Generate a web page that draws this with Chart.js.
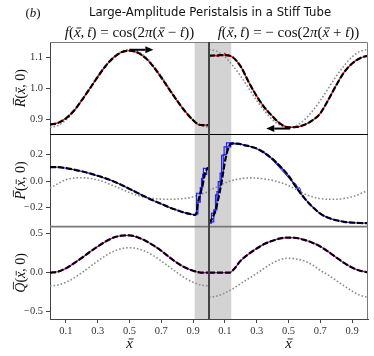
<!DOCTYPE html>
<html>
<head>
<meta charset="utf-8">
<script src="https://cdn.jsdelivr.net/npm/chart.js@4.4.1/dist/chart.umd.min.js"></script>
<style>
  html, body { margin: 0; padding: 0; background: #fff; }
  #wrap { width: 374px; height: 356px; }
</style>
</head>
<body>
<div id="wrap"><canvas id="chart" width="374" height="356"></canvas></div>
<script>
// ---- data ----
var xGrid = [0, 0.05, 0.1, 0.15, 0.2, 0.25, 0.3, 0.35, 0.4, 0.45, 0.5, 0.55, 0.6, 0.65, 0.7, 0.75, 0.8, 0.85, 0.9, 0.95, 1];

var xTickVals = [0.1, 0.3, 0.5, 0.7, 0.9];
var xTickLabels = ['0.1', '0.3', '0.5', '0.7', '0.9'];
var rTicks = [0.9, 1.0, 1.1];
var rTickLabels = ['0.9', '1.0', '1.1'];
var pTicks = [-0.2, 0, 0.2];
var pTickLabels = ['\u22120.2', '0.0', '0.2'];
var qTicks = [-0.5, 0, 0.5];
var qTickLabels = ['\u22120.5', '0.0', '0.5'];

// shaded bands (x, left and right panel)
var bandLeft = [0.91, 1.0];
var bandRight = [0, 0.14];

// R(x,0)
var rLeftX = [0, 0.05, 0.1, 0.15, 0.2, 0.25, 0.3, 0.35, 0.4, 0.45, 0.5, 0.55, 0.6, 0.65, 0.7, 0.75, 0.8, 0.85, 0.9, 0.93, 0.96, 1];
var rLeft = [0.884, 0.889, 0.904, 0.928, 0.962, 0.999, 1.037, 1.072, 1.099, 1.116, 1.121, 1.115, 1.098, 1.07, 1.035, 0.997, 0.96, 0.926, 0.898, 0.885, 0.882, 0.882];
var rLeftGray = [0.875, 0.881, 0.899, 0.927, 0.961, 1.0, 1.039, 1.073, 1.101, 1.119, 1.125, 1.119, 1.101, 1.073, 1.039, 1.0, 0.961, 0.927, 0.899, 0.881, 0.875];
var rRightX = [0, 0.05, 0.1, 0.13, 0.15, 0.2, 0.25, 0.3, 0.35, 0.4, 0.45, 0.5, 0.55, 0.6, 0.65, 0.7, 0.75, 0.8, 0.85, 0.9, 0.95, 1];
var rRight = [1.105, 1.106, 1.107, 1.105, 1.1, 1.07, 1.02, 0.975, 0.938, 0.91, 0.886, 0.875, 0.876, 0.883, 0.897, 0.92, 0.963, 1.01, 1.052, 1.08, 1.097, 1.105];
var rRightGray = [1.125, 1.119, 1.101, 1.073, 1.039, 1.0, 0.961, 0.927, 0.899, 0.881, 0.875, 0.881, 0.899, 0.927, 0.961, 1.0, 1.039, 1.073, 1.101, 1.119, 1.125];
var rWiggleX = [0.04, 0.06, 0.075, 0.09, 0.1, 0.11, 0.125, 0.14];
var rWiggle = [1.104, 1.102, 1.108, 1.104, 1.114, 1.106, 1.109, 1.1];

// P(x,0)
var pLeftX = [0, 0.05, 0.1, 0.15, 0.2, 0.25, 0.3, 0.35, 0.4, 0.45, 0.5, 0.55, 0.6, 0.65, 0.7, 0.75, 0.8, 0.85, 0.9, 0.915, 0.922, 0.93, 0.943, 0.96, 0.975, 0.99, 1];
var pLeft = [0.106, 0.105, 0.098, 0.087, 0.074, 0.058, 0.04, 0.02, -0.003, -0.03, -0.06, -0.09, -0.12, -0.148, -0.174, -0.2, -0.222, -0.242, -0.255, -0.258, -0.24, -0.17, -0.106, -0.03, 0.058, 0.095, 0.103];
var pLeftGray = [-0.055, -0.02, 0.01, 0.022, 0.025, 0.02, 0.008, -0.012, -0.037, -0.062, -0.088, -0.108, -0.124, -0.133, -0.138, -0.139, -0.137, -0.132, -0.12, -0.1, -0.08];
var pLeftStepAX = [0.9, 0.922, 0.922, 0.953, 0.953, 0.965, 0.965, 1];
var pLeftStepA = [-0.256, -0.256, -0.093, -0.093, 0.02, 0.02, 0.096, 0.096];
var pLeftStepBX = [0.915, 0.93, 0.93, 0.945, 0.945, 0.96, 0.96, 0.985, 0.985];
var pLeftStepB = [-0.25, -0.25, -0.16, -0.16, -0.05, -0.05, 0.05, 0.05, 0.1];

var pRightX = [0, 0.026, 0.047, 0.068, 0.083, 0.1, 0.117, 0.138, 0.18, 0.22, 0.26, 0.3, 0.34, 0.38, 0.42, 0.46, 0.5, 0.55, 0.6, 0.65, 0.7, 0.75, 0.8, 0.85, 0.9, 0.95, 1];
var pRight = [-0.32, -0.27, -0.194, -0.08, 0.02, 0.146, 0.234, 0.285, 0.285, 0.273, 0.262, 0.247, 0.22, 0.186, 0.145, 0.095, 0.04, -0.05, -0.13, -0.195, -0.248, -0.28, -0.298, -0.31, -0.316, -0.319, -0.32];
var pRightGray = [-0.07, -0.045, -0.015, 0.005, 0.018, 0.024, 0.022, 0.015, 0.005, -0.012, -0.035, -0.065, -0.098, -0.12, -0.133, -0.139, -0.139, -0.133, -0.12, -0.098, -0.07];
var pRightStepAX = [0, 0.016, 0.016, 0.041, 0.041, 0.058, 0.058, 0.079, 0.079, 0.095, 0.095, 0.137, 0.137, 0.2];
var pRightStepA = [-0.32, -0.32, -0.244, -0.244, -0.106, -0.106, -0.005, -0.005, 0.196, 0.196, 0.259, 0.259, 0.285, 0.285];
var pRightStepBX = [0.005, 0.03, 0.03, 0.05, 0.05, 0.07, 0.07, 0.09, 0.09, 0.11, 0.11, 0.16];
var pRightStepB = [-0.31, -0.31, -0.22, -0.22, -0.08, -0.08, 0.06, 0.06, 0.2, 0.2, 0.29, 0.29];
// small wobbles of the blue solution on the falling flank
var pRightWobbleX = [0.33, 0.345, 0.36, 0.37, 0.38, 0.53, 0.545, 0.56, 0.57, 0.58];
var pRightWobble = [0.226, 0.228, 0.2, 0.205, 0.186, -0.015, -0.02, -0.055, -0.05, -0.085];

// Q(x,0)
var qLeftX = [0, 0.05, 0.1, 0.15, 0.2, 0.25, 0.3, 0.35, 0.4, 0.45, 0.5, 0.55, 0.6, 0.65, 0.7, 0.75, 0.8, 0.85, 0.9, 0.93, 0.96, 1];
var qLeft = [0, 0.013, 0.055, 0.12, 0.19, 0.265, 0.335, 0.4, 0.45, 0.475, 0.478, 0.455, 0.41, 0.35, 0.28, 0.2, 0.125, 0.065, 0.025, 0.008, 0, 0];
var qLeftGray = [-0.17, -0.158, -0.123, -0.069, 0.0, 0.075, 0.15, 0.219, 0.273, 0.308, 0.32, 0.308, 0.273, 0.219, 0.15, 0.075, 0.0, -0.069, -0.123, -0.158, -0.17];
var qRightX = [0, 0.05, 0.1, 0.13, 0.15, 0.2, 0.25, 0.3, 0.35, 0.4, 0.45, 0.5, 0.55, 0.6, 0.65, 0.7, 0.75, 0.8, 0.85, 0.9, 0.95, 1];
var qRight = [0, 0, 0, 0, 0.03, 0.155, 0.24, 0.31, 0.37, 0.41, 0.44, 0.45, 0.445, 0.42, 0.385, 0.335, 0.27, 0.195, 0.125, 0.065, 0.025, 0.005];
var qRightGray = [-0.315, -0.3, -0.26, -0.205, -0.14, -0.075, -0.01, 0.06, 0.125, 0.17, 0.185, 0.175, 0.15, 0.1, 0.03, -0.03, -0.1, -0.17, -0.235, -0.29, -0.315];

// direction arrows (panel x from, panel x to, y)
var arrowLeft = [0.5, 0.65, 1.124];
var arrowRight = [0.51, 0.36, 0.871];

// ---- styling ----
var SERIF = '"Liberation Serif", "DejaVu Serif", serif';
var GRAY = '#8c8c8c';
var DASH = [6, 2];

function line(xArr, yArr, side, axis, color, width, dash, order, smooth) {
    return {
        data: xArr.map(function(x, i) { return {x: x + side, y: yArr[i]}; }),
        yAxisID: axis,
        borderColor: color,
        borderWidth: width,
        borderDash: dash || [],
        pointRadius: 0,
        fill: false,
        order: order,
        tension: 0,
        cubicInterpolationMode: smooth ? 'monotone' : 'default'
    };
}

// keep the part of a series that lies in [lo, hi]
function part(xArr, yArr, lo, hi) {
    var xs = [], ys = [];
    xArr.forEach(function(x, i) {
        if (x >= lo && x <= hi) { xs.push(x); ys.push(yArr[i]); }
    });
    return [xs, ys];
}

var blueL = part(pLeftX, pLeft, 0, 0.9);
var blueR = part(pRightX, pRight, 0.138, 1);

var datasets = [
    // black (dashed) on top
    line(rLeftX, rLeft, 0, 'yR', '#000', 2.2, DASH, 0, true),
    line(rRightX, rRight, 1, 'yR', '#000', 2.2, DASH, 0, true),
    line(pLeftX, pLeft, 0, 'yP', '#000', 2.2, DASH, 0, true),
    line(pRightX, pRight, 1, 'yP', '#000', 2.2, DASH, 0, true),
    line(qLeftX, qLeft, 0, 'yQ', '#000', 2.2, DASH, 0, true),
    line(qRightX, qRight, 1, 'yQ', '#000', 2.2, DASH, 0, true),
    // coloured numerical solutions
    line(rLeftX, rLeft, 0, 'yR', '#ff0000', 1.3, [], 1, true),
    line(rRightX, rRight, 1, 'yR', '#ff0000', 1.3, [], 1, true),
    line(rWiggleX, rWiggle, 1, 'yR', '#ff0000', 1, [], 1, false),
    line(blueL[0], blueL[1], 0, 'yP', '#1f1fff', 1.3, [], 1, true),
    line(blueR[0], blueR[1], 1, 'yP', '#1f1fff', 1.3, [], 1, true),
    line(pRightWobbleX, pRightWobble, 1, 'yP', '#1f1fff', 1, [], 1, false),
    line(pLeftStepAX, pLeftStepA, 0, 'yP', '#1f1fff', 1.2, [], 1, false),
    line(pLeftStepBX, pLeftStepB, 0, 'yP', '#1f1fff', 1.2, [], 1, false),
    line(pRightStepAX, pRightStepA, 1, 'yP', '#1f1fff', 1.2, [], 1, false),
    line(pRightStepBX, pRightStepB, 1, 'yP', '#1f1fff', 1.2, [], 1, false),
    line(qLeftX, qLeft, 0, 'yQ', '#c000c0', 1.3, [], 1, true),
    line(qRightX, qRight, 1, 'yQ', '#c000c0', 1.3, [], 1, true),
    // gray dotted reference
    line(xGrid, rLeftGray, 0, 'yR', GRAY, 1.6, [1.6, 2], 2, true),
    line(xGrid, rRightGray, 1, 'yR', GRAY, 1.6, [1.6, 2], 2, true),
    line(xGrid, pLeftGray, 0, 'yP', GRAY, 1.6, [1.6, 2], 2, true),
    line(xGrid, pRightGray, 1, 'yP', GRAY, 1.6, [1.6, 2], 2, true),
    line(xGrid, qLeftGray, 0, 'yQ', GRAY, 1.6, [1.6, 2], 2, true),
    line(xGrid, qRightGray, 1, 'yQ', GRAY, 1.6, [1.6, 2], 2, true)
];

function yScale(min, max, vals, labels, weight) {
    return {
        type: 'linear',
        position: 'left',
        stack: 'panels',
        stackWeight: 1,
        weight: weight,
        min: min,
        max: max,
        afterBuildTicks: function(s) { s.ticks = vals.map(function(v) { return {value: v}; }); },
        afterFit: function(s) { s.width = 50; },
        ticks: {
            callback: function(v, i) { return labels[i]; },
            font: {family: SERIF, size: 10.5},
            color: '#333',
            padding: 3
        },
        grid: {drawOnChartArea: false, drawTicks: true, tickLength: 4, color: '#444'},
        border: {display: true, color: '#444', width: 1}
    };
}

// ---- text helpers (math-like labels) ----
function fontFor(style, size) {
    return (style.charAt(0) === 'i' ? 'italic ' : '') + size + 'px ' + SERIF;
}

// runs: [text, style]; style 'n' upright, 'i' italic, 'ib' italic with bar, 'iB' capital italic with bar
function drawRuns(ctx, runs, x, y, size, rot) {
    ctx.save();
    ctx.translate(x, y);
    ctx.rotate(rot || 0);
    var total = 0;
    var widths = runs.map(function(r) {
        ctx.font = fontFor(r[1], size);
        var w = ctx.measureText(r[0]).width;
        total += w;
        return w;
    });
    var cx = -total / 2;
    var base = size * 0.33;
    ctx.fillStyle = '#111';
    ctx.strokeStyle = '#111';
    ctx.textAlign = 'left';
    ctx.textBaseline = 'alphabetic';
    runs.forEach(function(r, i) {
        ctx.font = fontFor(r[1], size);
        ctx.fillText(r[0], cx, base);
        if (r[1] === 'ib' || r[1] === 'iB') {
            var h = r[1] === 'ib' ? 0.6 : 0.8;
            var by = base - size * h;
            ctx.lineWidth = Math.max(0.8, size * 0.06);
            ctx.beginPath();
            ctx.moveTo(cx + widths[i] * 0.2 + size * 0.08, by);
            ctx.lineTo(cx + widths[i] * 0.95 + size * 0.08, by);
            ctx.stroke();
        }
        cx += widths[i];
    });
    ctx.restore();
}

var panelPlugin = {
    id: 'panels',
    beforeDatasetsDraw: function(chart) {
        var ctx = chart.ctx, xs = chart.scales.x, a = chart.chartArea;
        ctx.save();
        ctx.fillStyle = '#d3d3d3';
        var l = xs.getPixelForValue(bandLeft[0]);
        var r = xs.getPixelForValue(1 + bandRight[1]);
        ctx.fillRect(l, a.top, r - l, a.bottom - a.top);
        ctx.restore();
    },
    afterDatasetsDraw: function(chart) {
        var ctx = chart.ctx, xs = chart.scales.x, a = chart.chartArea;
        var s = chart.scales;
        ctx.save();
        // outer frame
        ctx.strokeStyle = '#7a7a7a';
        ctx.lineWidth = 1;
        ctx.beginPath();
        ctx.moveTo(a.left, a.top + 0.5);
        ctx.lineTo(a.right - 0.5, a.top + 0.5);
        ctx.lineTo(a.right - 0.5, a.bottom);
        ctx.stroke();
        // separators between rows
        ctx.strokeStyle = '#000';
        ctx.beginPath();
        ctx.moveTo(a.left, Math.round(s.yR.bottom) + 0.5);
        ctx.lineTo(a.right, Math.round(s.yR.bottom) + 0.5);
        ctx.stroke();
        ctx.strokeStyle = '#777';
        ctx.lineWidth = 1.6;
        ctx.beginPath();
        ctx.moveTo(a.left, s.yP.bottom);
        ctx.lineTo(a.right, s.yP.bottom);
        ctx.stroke();
        // divider between the two travelling waves
        var dx = xs.getPixelForValue(1);
        ctx.strokeStyle = '#444';
        ctx.lineWidth = 2;
        ctx.beginPath();
        ctx.moveTo(dx, a.top);
        ctx.lineTo(dx, a.bottom);
        ctx.stroke();
        // arrows
        drawArrow(ctx, xs.getPixelForValue(arrowLeft[0]), xs.getPixelForValue(arrowLeft[1]), s.yR.getPixelForValue(arrowLeft[2]));
        drawArrow(ctx, xs.getPixelForValue(1 + arrowRight[0]), xs.getPixelForValue(1 + arrowRight[1]), s.yR.getPixelForValue(arrowRight[2]));
        ctx.restore();
    },
    afterDraw: function(chart) {
        var ctx = chart.ctx, xs = chart.scales.x, s = chart.scales;
        var lc = (xs.getPixelForValue(0) + xs.getPixelForValue(1)) / 2;
        var rc = (xs.getPixelForValue(1) + xs.getPixelForValue(2)) / 2;
        ctx.save();
        ctx.fillStyle = '#111';
        ctx.font = '11.7px "DejaVu Sans"';
        ctx.textAlign = 'center';
        ctx.textBaseline = 'middle';
        ctx.fillText('Large-Amplitude Peristalsis in a Stiff Tube', 210, 13);
        ctx.restore();
        drawRuns(ctx, [['(', 'n'], ['b', 'i'], [')', 'n']], 33, 13, 13);
        drawRuns(ctx, [['f', 'i'], ['(', 'n'], ['x', 'ib'], [',\u2009', 'n'], ['t', 'ib'], [') = cos(2', 'n'], ['\u03c0', 'i'], ['(', 'n'], ['x', 'ib'], [' \u2212 ', 'n'], ['t', 'ib'], ['))', 'n']], lc, 32, 15);
        drawRuns(ctx, [['f', 'i'], ['(', 'n'], ['x', 'ib'], [',\u2009', 'n'], ['t', 'ib'], [') = \u2212 cos(2', 'n'], ['\u03c0', 'i'], ['(', 'n'], ['x', 'ib'], [' + ', 'n'], ['t', 'ib'], ['))', 'n']], rc, 32, 15);
        var ylab = function(letter, sc) {
            drawRuns(ctx, [[letter, 'iB'], ['(', 'n'], ['x', 'ib'], [', 0)', 'n']], 20, (sc.top + sc.bottom) / 2, 14, -Math.PI / 2);
        };
        ylab('R', s.yR);
        ylab('P', s.yP);
        ylab('Q', s.yQ);
        drawRuns(ctx, [['x', 'ib']], lc, 343, 15);
        drawRuns(ctx, [['x', 'ib']], rc, 343, 15);
    }
};

function drawArrow(ctx, x0, x1, y) {
    var dir = x1 > x0 ? 1 : -1;
    var head = 8;
    ctx.strokeStyle = '#000';
    ctx.fillStyle = '#000';
    ctx.lineWidth = 2;
    ctx.beginPath();
    ctx.moveTo(x0, y);
    ctx.lineTo(x1 - dir * head, y);
    ctx.stroke();
    ctx.beginPath();
    ctx.moveTo(x1, y);
    ctx.lineTo(x1 - dir * head, y - 3.5);
    ctx.lineTo(x1 - dir * head, y + 3.5);
    ctx.closePath();
    ctx.fill();
}

var allXTicks = xTickVals.concat(xTickVals.map(function(v) { return v + 1; }));

new Chart(document.getElementById('chart').getContext('2d'), {
    type: 'line',
    data: {datasets: datasets},
    options: {
        responsive: false,
        animation: false,
        layout: {padding: {top: 42, right: 6, left: 0, bottom: 0}},
        plugins: {legend: {display: false}, tooltip: {enabled: false}},
        scales: {
            x: {
                type: 'linear',
                position: 'bottom',
                min: 0,
                max: 2,
                afterBuildTicks: function(s) { s.ticks = allXTicks.map(function(v) { return {value: v}; }); },
                afterFit: function(s) { s.height = 37; },
                ticks: {
                    callback: function(v, i) { return xTickLabels[i % xTickLabels.length]; },
                    font: {family: SERIF, size: 10.5},
                    color: '#333',
                    maxRotation: 0,
                    autoSkip: false,
                    padding: 2
                },
                grid: {drawOnChartArea: false, drawTicks: true, tickLength: 4, color: '#444'},
                border: {display: true, color: '#444'}
            },
            yQ: yScale(-0.594, 0.59, qTicks, qTickLabels, 1),
            yP: yScale(-0.347, 0.355, pTicks, pTickLabels, 2),
            yR: yScale(0.8525, 1.149, rTicks, rTickLabels, 3)
        }
    },
    plugins: [panelPlugin]
});
</script>
</body>
</html>
